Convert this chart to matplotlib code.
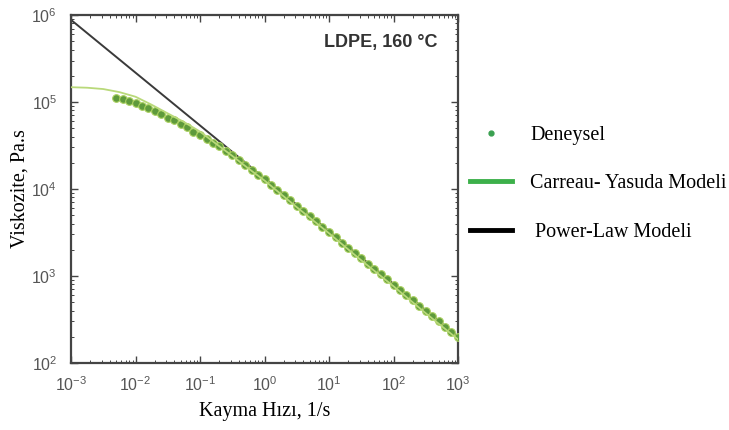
import matplotlib
matplotlib.use("Agg")
import matplotlib.pyplot as plt
from matplotlib.lines import Line2D
from matplotlib.ticker import LogLocator, NullFormatter

plt.rcParams["font.family"] = ["Liberation Sans", "DejaVu Sans"]
plt.rcParams["mathtext.default"] = "regular"

shear_exp = [0.005, 0.0063, 0.0079, 0.01, 0.0126, 0.0158, 0.02, 0.0251, 0.0316, 0.0398,
             0.05, 0.063, 0.079, 0.1, 0.126, 0.158, 0.2, 0.251, 0.316, 0.398,
             0.5, 0.63, 0.79, 1.0, 1.26, 1.58, 2.0, 2.51, 3.16, 3.98,
             5.0, 6.3, 7.9, 10.0, 12.6, 15.8, 20.0, 25.1, 31.6, 39.8,
             50.0, 63.0, 79.0, 100.0, 126.0, 158.0, 200.0, 251.0, 316.0, 398.0,
             500.0, 630.0, 790.0, 1000.0]
visc_exp = [112000, 107000, 102000, 98000, 91000, 85000, 79000, 72000, 66000, 62000,
            56000, 51000, 45700, 41700, 38000, 33900, 30900, 27500, 24500, 21400,
            19100, 16600, 14500, 12900, 11200, 9750, 8480, 7380, 6420, 5580,
            4860, 4230, 3680, 3200, 2780, 2420, 2110, 1830, 1590, 1390,
            1210, 1050, 913, 794, 691, 601, 523, 455, 396, 344,
            300, 261, 227, 197]

# Carreau-Yasuda model curve
shear_cy = [0.001, 0.00178, 0.00316, 0.00562, 0.01, 0.0178, 0.0316, 0.0562, 0.1, 0.178,
            0.316, 0.562, 1.0, 3.16, 10.0, 31.6, 100.0, 316.0, 1000.0]
visc_cy = [148000, 146000, 141000, 130000, 115000, 93000, 74000, 59000, 45700, 33000,
           24000, 17200, 12500, 6170, 3090, 1510, 760, 372, 186]

# Power-law model
shear_pl = [0.001, 1000.0]
visc_pl = [880000, 200]

fig = plt.figure(figsize=(7.29, 4.30), dpi=100)
ax = fig.add_axes([0.0974, 0.156, 0.531, 0.809])

ax.plot(shear_pl, visc_pl, color="#3a3a3a", lw=1.4, zorder=2)
ax.plot(shear_exp, visc_exp, "o", ms=5.5, color="#5e9a3c", mec="#a9cf5e", mew=0.8, zorder=3)
ax.plot(shear_cy, visc_cy, color="#b9d97a", lw=1.3, zorder=4)

ax.set_xscale("log")
ax.set_yscale("log")
ax.set_xlim(1e-3, 1e3)
ax.set_ylim(1e2, 1e6)
ax.xaxis.set_major_locator(LogLocator(base=10, numticks=10))
ax.yaxis.set_major_locator(LogLocator(base=10, numticks=10))
ax.xaxis.set_minor_locator(LogLocator(base=10, subs=range(2, 10), numticks=20))
ax.yaxis.set_minor_locator(LogLocator(base=10, subs=range(2, 10), numticks=20))
ax.xaxis.set_minor_formatter(NullFormatter())
ax.yaxis.set_minor_formatter(NullFormatter())
ax.tick_params(which="both", direction="in", top=True, right=True, colors="#444444",
               labelcolor="#555555", labelsize=11.5)
ax.tick_params(which="major", length=5, width=1.0)
ax.tick_params(which="minor", length=2.5, width=0.7)
ax.tick_params(axis="x", which="major", pad=9)
ax.tick_params(axis="y", which="major", pad=10)
for s in ax.spines.values():
    s.set_color("#444444")
    s.set_linewidth(1.6)

ax.text(0.948, 0.92, "LDPE, 160 °C", transform=ax.transAxes, ha="right", va="center",
        fontsize=13, fontweight="bold", color="#333333")

ax.set_xlabel("Kayma Hızı, 1/s", family=["Liberation Serif"], fontsize=14.5, labelpad=6)
ax.set_ylabel("Viskozite, Pa.s", family=["Liberation Serif"], fontsize=14.5, labelpad=1)

handles = [
    Line2D([], [], ls="none", marker="o", ms=3.5, color="#3aa050"),
    Line2D([], [], color="#3cb04a", lw=3.5),
    Line2D([], [], color="#000000", lw=3.5),
]
labels = ["Deneysel", "Carreau- Yasuda Modeli", " Power-Law Modeli"]
fig.legend(handles, labels, loc="upper left", bbox_to_anchor=(470 / 729, 1 - 126 / 430),
           frameon=False, borderpad=0, borderaxespad=0,
           prop={"family": "Liberation Serif", "size": 14.5}, labelspacing=1.45,
           handlelength=2.1, handletextpad=0.9)

fig.savefig("out.png", dpi=100)
